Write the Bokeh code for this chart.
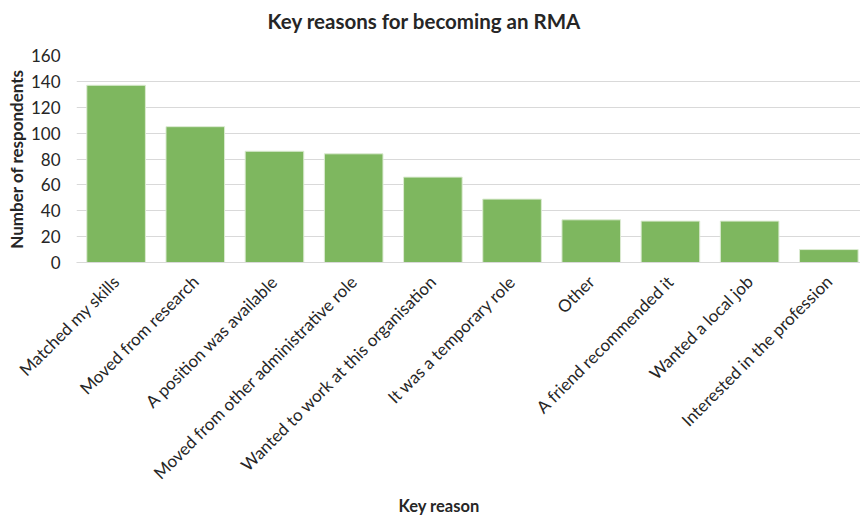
import numpy as np
from bokeh.plotting import figure
from bokeh.models import Range1d, FixedTicker, Title, ColumnDataSource
from bokeh.embed import file_html
from bokeh.resources import INLINE

reasons = [
    "Matched my skills",
    "Moved from research",
    "A position was available",
    "Moved from other administrative role",
    "Wanted to work at this organisation",
    "It was a temporary role",
    "Other",
    "A friend recommended it",
    "Wanted a local job",
    "Interested in the profession",
]
counts = [137, 105, 86, 84, 66, 49, 33, 32, 32, 10]
y_ticks = [0, 20, 40, 60, 80, 100, 120, 140, 160]
title_text = "Key reasons for becoming an RMA"
x_title = "Key reason"
y_title = "Number of respondents"

FONT = "Lato"
TXT = "#262626"
idx = list(range(len(reasons)))
src = ColumnDataSource(dict(x=idx, top=counts, name=reasons))

p = figure(width=860, height=515, output_backend="svg", toolbar_location=None,
           x_range=Range1d(-0.5, 9.4), y_range=Range1d(0, 160),
           min_border_left=76, min_border_right=0, min_border_top=55, min_border_bottom=253)

p.vbar(x="x", top="top", width=0.74, source=src,
       fill_color="#7EB75F", line_color="#dcebd2", line_width=1)

# spacer between plot area and chart title, then the title itself
p.add_layout(Title(text=" ", text_font_size="10px", standoff=9), "above")
p.add_layout(Title(text=title_text, align="left", offset=191,
                   text_font=FONT, text_font_style="bold", text_font_size="20.5px",
                   text_color=TXT, standoff=2), "above")

p.add_layout(Title(text=x_title, align="left", offset=322,
                   text_font=FONT, text_font_style="bold", text_font_size="16.5px",
                   text_color=TXT, standoff=0), "below")

p.outline_line_color = None
p.background_fill_color = "white"
p.border_fill_color = "white"

# y axis
p.yaxis.ticker = FixedTicker(ticks=y_ticks)
p.yaxis.axis_line_color = None
p.yaxis.major_tick_line_color = None
p.yaxis.minor_tick_line_color = None
p.yaxis.major_tick_out = 0
p.yaxis.major_label_standoff = 16
p.yaxis.major_label_text_font = FONT
p.yaxis.major_label_text_font_size = "17px"
p.yaxis.major_label_text_color = TXT
p.yaxis.axis_label = y_title
p.yaxis.axis_label_text_font = FONT
p.yaxis.axis_label_text_font_style = "bold"
p.yaxis.axis_label_text_font_size = "17px"
p.yaxis.axis_label_text_color = TXT
p.yaxis.axis_label_standoff = 1

p.ygrid.ticker = FixedTicker(ticks=y_ticks)
p.ygrid.grid_line_color = "#d9d9d9"
p.ygrid.grid_line_width = 1
p.xgrid.grid_line_color = None

# x axis
p.xaxis.ticker = FixedTicker(ticks=idx)
p.xaxis.major_label_overrides = {i: r for i, r in zip(idx, reasons)}
p.xaxis.major_label_orientation = np.pi / 4
p.xaxis.axis_line_color = "#d9d9d9"
p.xaxis.major_tick_line_color = None
p.xaxis.minor_tick_line_color = None
p.xaxis.major_tick_out = 0
p.xaxis.major_label_standoff = 16
p.xaxis.major_label_text_font = FONT
p.xaxis.major_label_text_font_size = "17px"
p.xaxis.major_label_text_color = TXT

open("out.html", "w").write(file_html(p, INLINE))
